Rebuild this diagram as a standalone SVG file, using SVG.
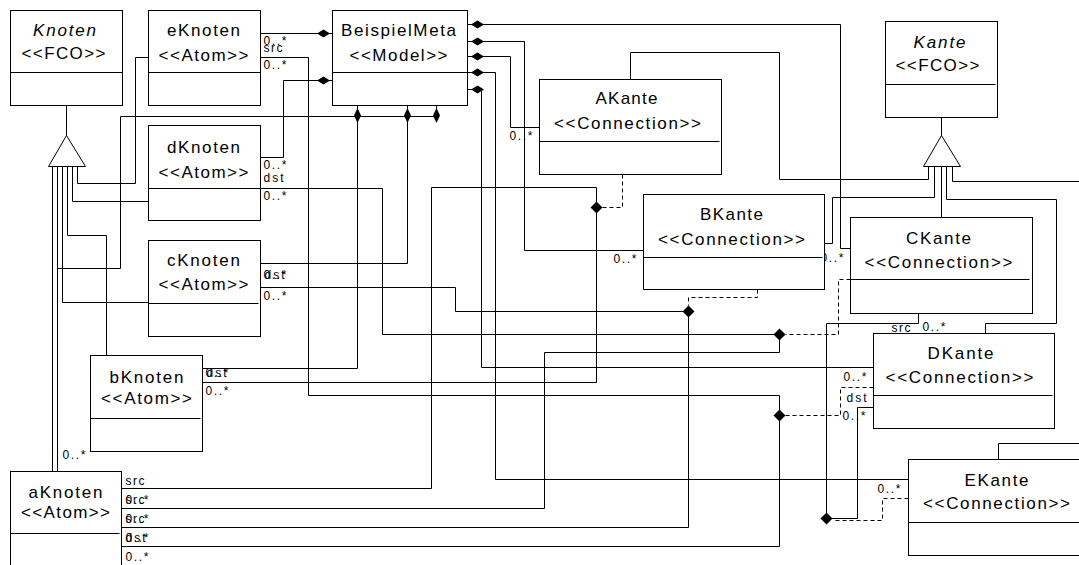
<svg xmlns="http://www.w3.org/2000/svg" width="1079" height="565" viewBox="0 0 1079 565">
<style>
.ln{fill:none;stroke:#000;stroke-width:1}
.ds{fill:none;stroke:#000;stroke-width:1;stroke-dasharray:4 3}
.box{fill:#fff;stroke:#000;stroke-width:1}
.tri{fill:#fff;stroke:#000;stroke-width:1}
.t{font-family:"Liberation Sans",Arial,sans-serif;font-size:17px;fill:#000;text-anchor:middle}
.i{font-style:italic}
.s{font-family:"Liberation Sans",Arial,sans-serif;font-size:12px;fill:#000}
.d{fill:#000;stroke:none}
</style>
<defs>
<path id="dh" class="d" d="M-6.5,0 L0,-4 L6.5,0 L0,4 Z"/>
<path id="dv" class="d" d="M0,-7.5 L3.5,0 L0,7.5 L-3.5,0 Z"/>
<path id="dj" class="d" d="M0,-6 L6,0 L0,6 L-6,0 Z"/>
</defs>
<rect x="0" y="0" width="1079" height="565" fill="#fff"/>
<g transform="translate(0.5,0.5)">
<g id="connectors">
  <!-- containment -->
  <path class="ln" d="M260,33 H332"/>
  <path class="ln" d="M260,157 H283 V80 H332"/>
  <path class="ln" d="M202,368 H357 V105"/>
  <path class="ln" d="M260,263 H407 V105"/>
  <path class="ln" d="M57,268 H120 V116 H436 V105"/>
  <path class="ln" d="M467,24 H840 V248 H850"/>
  <path class="ln" d="M467,41 H524 V250 H643"/>
  <path class="ln" d="M467,56 H510 V127 H539"/>
  <path class="ln" d="M467,72 H495 V479 H908"/>
  <path class="ln" d="M467,89 H481 V367 H873"/>
  <use href="#dh" x="323" y="33"/>
  <use href="#dh" x="323" y="80"/>
  <use href="#dv" x="357" y="115"/>
  <use href="#dv" x="407" y="115"/>
  <use href="#dv" x="436" y="115"/>
  <use href="#dh" x="477" y="24"/>
  <use href="#dh" x="477" y="41"/>
  <use href="#dh" x="477" y="56"/>
  <use href="#dh" x="477" y="72"/>
  <use href="#dh" x="477" y="89"/>
  <!-- generalization Knoten -->
  <path class="ln" d="M66,105 V135"/>
  <path class="ln" d="M148,57 H135 V183 H77 V166"/>
  <path class="ln" d="M148,201 H72 V166"/>
  <path class="ln" d="M106,355 V235 H67 V166"/>
  <path class="ln" d="M148,302 H62 V166"/>
  <path class="ln" d="M52,471 V166"/>
  <path class="ln" d="M57,471 V166"/>
  <path class="tri" d="M66,135 L48,166 H85 Z"/>
  <!-- generalization Kante -->
  <path class="ln" d="M941,117 V135"/>
  <path class="ln" d="M630,79 V52 H779 V179 H928 V166"/>
  <path class="ln" d="M824,243 H832 V197 H934 V166"/>
  <path class="ln" d="M941,217 V166"/>
  <path class="ln" d="M985,333 V323 H1056 V199 H946 V166"/>
  <path class="ln" d="M952,166 V181 H1079"/>
  <path class="ln" d="M998,459 V443 H1079"/>
  <path class="tri" d="M941,135 L923,166 H960 Z"/>
  <!-- AKante -->
  <path class="ln" d="M596,207 V187 H431 V488 H121"/>
  <path class="ln" d="M596,207 V382 H202"/>
  <path class="ds" d="M622,174 V207 H602"/>
  <use href="#dj" x="596" y="207"/>
  <!-- BKante -->
  <path class="ln" d="M688,311 H455 V287 H260"/>
  <path class="ln" d="M688,311 V527 H121"/>
  <path class="ds" d="M757,289 V297 H688 V305"/>
  <use href="#dj" x="688" y="311"/>
  <!-- CKante -->
  <path class="ln" d="M779,334 H382 V188 H260"/>
  <path class="ln" d="M779,334 V352 H544 V508 H121"/>
  <path class="ds" d="M850,279 H838 V334 H785"/>
  <use href="#dj" x="779" y="334"/>
  <!-- DKante -->
  <path class="ln" d="M779,415 V395 H308 V57 H260"/>
  <path class="ln" d="M779,415 V546 H121"/>
  <path class="ds" d="M873,387 H840 V415 H785"/>
  <use href="#dj" x="779" y="415"/>
  <!-- EKante -->
  <path class="ln" d="M826,518 V323 H918 V313"/>
  <path class="ln" d="M826,518 H857 V407 H873"/>
  <path class="ds" d="M908,498 H882 V520 H832"/>
  <use href="#dj" x="826" y="518"/>
  <!-- labels -->
  <text class="s" x="263" y="44" textLength="23">0..*</text>
  <text class="s" x="263" y="51" textLength="19">src</text>
  <text class="s" x="263" y="68" textLength="23">0..*</text>
  <text class="s" x="263" y="168" textLength="23">0..*</text>
  <text class="s" x="263" y="181" textLength="20">dst</text>
  <text class="s" x="263" y="199" textLength="23">0..*</text>
  <text class="s" x="263" y="278" textLength="23">0..*</text>
  <text class="s" x="264" y="278" textLength="20">dst</text>
  <text class="s" x="263" y="299" textLength="23">0..*</text>
  <text class="s" x="205" y="376" textLength="23">0..*</text>
  <text class="s" x="206" y="376" textLength="20">dst</text>
  <text class="s" x="205" y="394" textLength="23">0..*</text>
  <text class="s" x="62" y="458" textLength="23">0..*</text>
  <text class="s" x="125" y="484" textLength="19">src</text>
  <text class="s" x="125" y="503" textLength="23">0..*</text>
  <text class="s" x="125" y="503" textLength="19">src</text>
  <text class="s" x="125" y="522" textLength="23">0..*</text>
  <text class="s" x="125" y="522" textLength="19">src</text>
  <text class="s" x="125" y="541" textLength="23">0..*</text>
  <text class="s" x="125" y="541" textLength="20">dst</text>
  <text class="s" x="125" y="560" textLength="23">0..*</text>
  <text class="s" x="509" y="139" textLength="23">0..*</text>
  <text class="s" x="613" y="262" textLength="23">0..*</text>
  <text class="s" x="820" y="261" textLength="23">0..*</text>
  <text class="s" x="843" y="380" textLength="23">0..*</text>
  <text class="s" x="846" y="401" textLength="20">dst</text>
  <text class="s" x="842" y="419" textLength="23">0..*</text>
  <text class="s" x="877" y="492" textLength="23">0..*</text>
  <text class="s" x="891" y="331" textLength="19">src</text>
  <text class="s" x="922" y="330" textLength="23">0..*</text>
</g>
<g id="Knoten">
  <rect class="box" x="10" y="10" width="112" height="95"/>
  <path class="ln" d="M10,72 H122"/>
  <text class="t i" x="64" y="35" textLength="63">Knoten</text>
  <text class="t" x="63" y="58" textLength="84">&lt;&lt;FCO&gt;&gt;</text>
</g>
<g id="eKnoten">
  <rect class="box" x="148" y="10" width="112" height="95"/>
  <path class="ln" d="M148,72 H260"/>
  <text class="t" x="203" y="35" textLength="73">eKnoten</text>
  <text class="t" x="203" y="60" textLength="90">&lt;&lt;Atom&gt;&gt;</text>
</g>
<g id="dKnoten">
  <rect class="box" x="148" y="125" width="112" height="95"/>
  <path class="ln" d="M148,188 H260"/>
  <text class="t" x="203" y="152" textLength="73">dKnoten</text>
  <text class="t" x="203" y="177" textLength="90">&lt;&lt;Atom&gt;&gt;</text>
</g>
<g id="cKnoten">
  <rect class="box" x="148" y="240" width="112" height="96"/>
  <path class="ln" d="M148,303 H258"/>
  <text class="t" x="203" y="265" textLength="73">cKnoten</text>
  <text class="t" x="203" y="289" textLength="90">&lt;&lt;Atom&gt;&gt;</text>
</g>
<g id="bKnoten">
  <rect class="box" x="90" y="355" width="112" height="96"/>
  <path class="ln" d="M90,418 H200"/>
  <text class="t" x="146" y="382" textLength="74">bKnoten</text>
  <text class="t" x="146" y="403" textLength="91">&lt;&lt;Atom&gt;&gt;</text>
</g>
<g id="aKnoten">
  <rect class="box" x="10" y="471" width="111" height="100"/>
  <path class="ln" d="M10,533 H119"/>
  <text class="t" x="65" y="497" textLength="74">aKnoten</text>
  <text class="t" x="65" y="517" textLength="89">&lt;&lt;Atom&gt;&gt;</text>
</g>
<g id="BeispielMeta">
  <rect class="box" x="332" y="10" width="135" height="95"/>
  <path class="ln" d="M332,72 H467"/>
  <text class="t" x="398" y="35" textLength="115">BeispielMeta</text>
  <text class="t" x="398" y="60" textLength="98">&lt;&lt;Model&gt;&gt;</text>
</g>
<g id="AKante">
  <rect class="box" x="539" y="79" width="182" height="95"/>
  <path class="ln" d="M539,141 H719"/>
  <text class="t" x="626" y="103" textLength="62">AKante</text>
  <text class="t" x="627" y="128" textLength="147">&lt;&lt;Connection&gt;&gt;</text>
</g>
<g id="Kante">
  <rect class="box" x="885" y="21" width="112" height="96"/>
  <path class="ln" d="M885,84 H995"/>
  <text class="t i" x="939" y="47" textLength="52">Kante</text>
  <text class="t" x="937" y="70" textLength="84">&lt;&lt;FCO&gt;&gt;</text>
</g>
<g id="BKante">
  <rect class="box" x="643" y="194" width="181" height="95"/>
  <path class="ln" d="M643,257 H822"/>
  <text class="t" x="731" y="219" textLength="63">BKante</text>
  <text class="t" x="731" y="244" textLength="147">&lt;&lt;Connection&gt;&gt;</text>
</g>
<g id="CKante">
  <rect class="box" x="850" y="217" width="182" height="96"/>
  <path class="ln" d="M850,279 H1029"/>
  <text class="t" x="938" y="243" textLength="65">CKante</text>
  <text class="t" x="938" y="267" textLength="148">&lt;&lt;Connection&gt;&gt;</text>
</g>
<g id="DKante">
  <rect class="box" x="873" y="333" width="181" height="95"/>
  <path class="ln" d="M873,395 H1052"/>
  <text class="t" x="960" y="358" textLength="66">DKante</text>
  <text class="t" x="959" y="382" textLength="148">&lt;&lt;Connection&gt;&gt;</text>
</g>
<g id="EKante">
  <rect class="box" x="908" y="459" width="200" height="96"/>
  <path class="ln" d="M908,522 H1108"/>
  <text class="t" x="996" y="485" textLength="64">EKante</text>
  <text class="t" x="996" y="508" textLength="147">&lt;&lt;Connection&gt;&gt;</text>
</g>
</g>
</svg>
